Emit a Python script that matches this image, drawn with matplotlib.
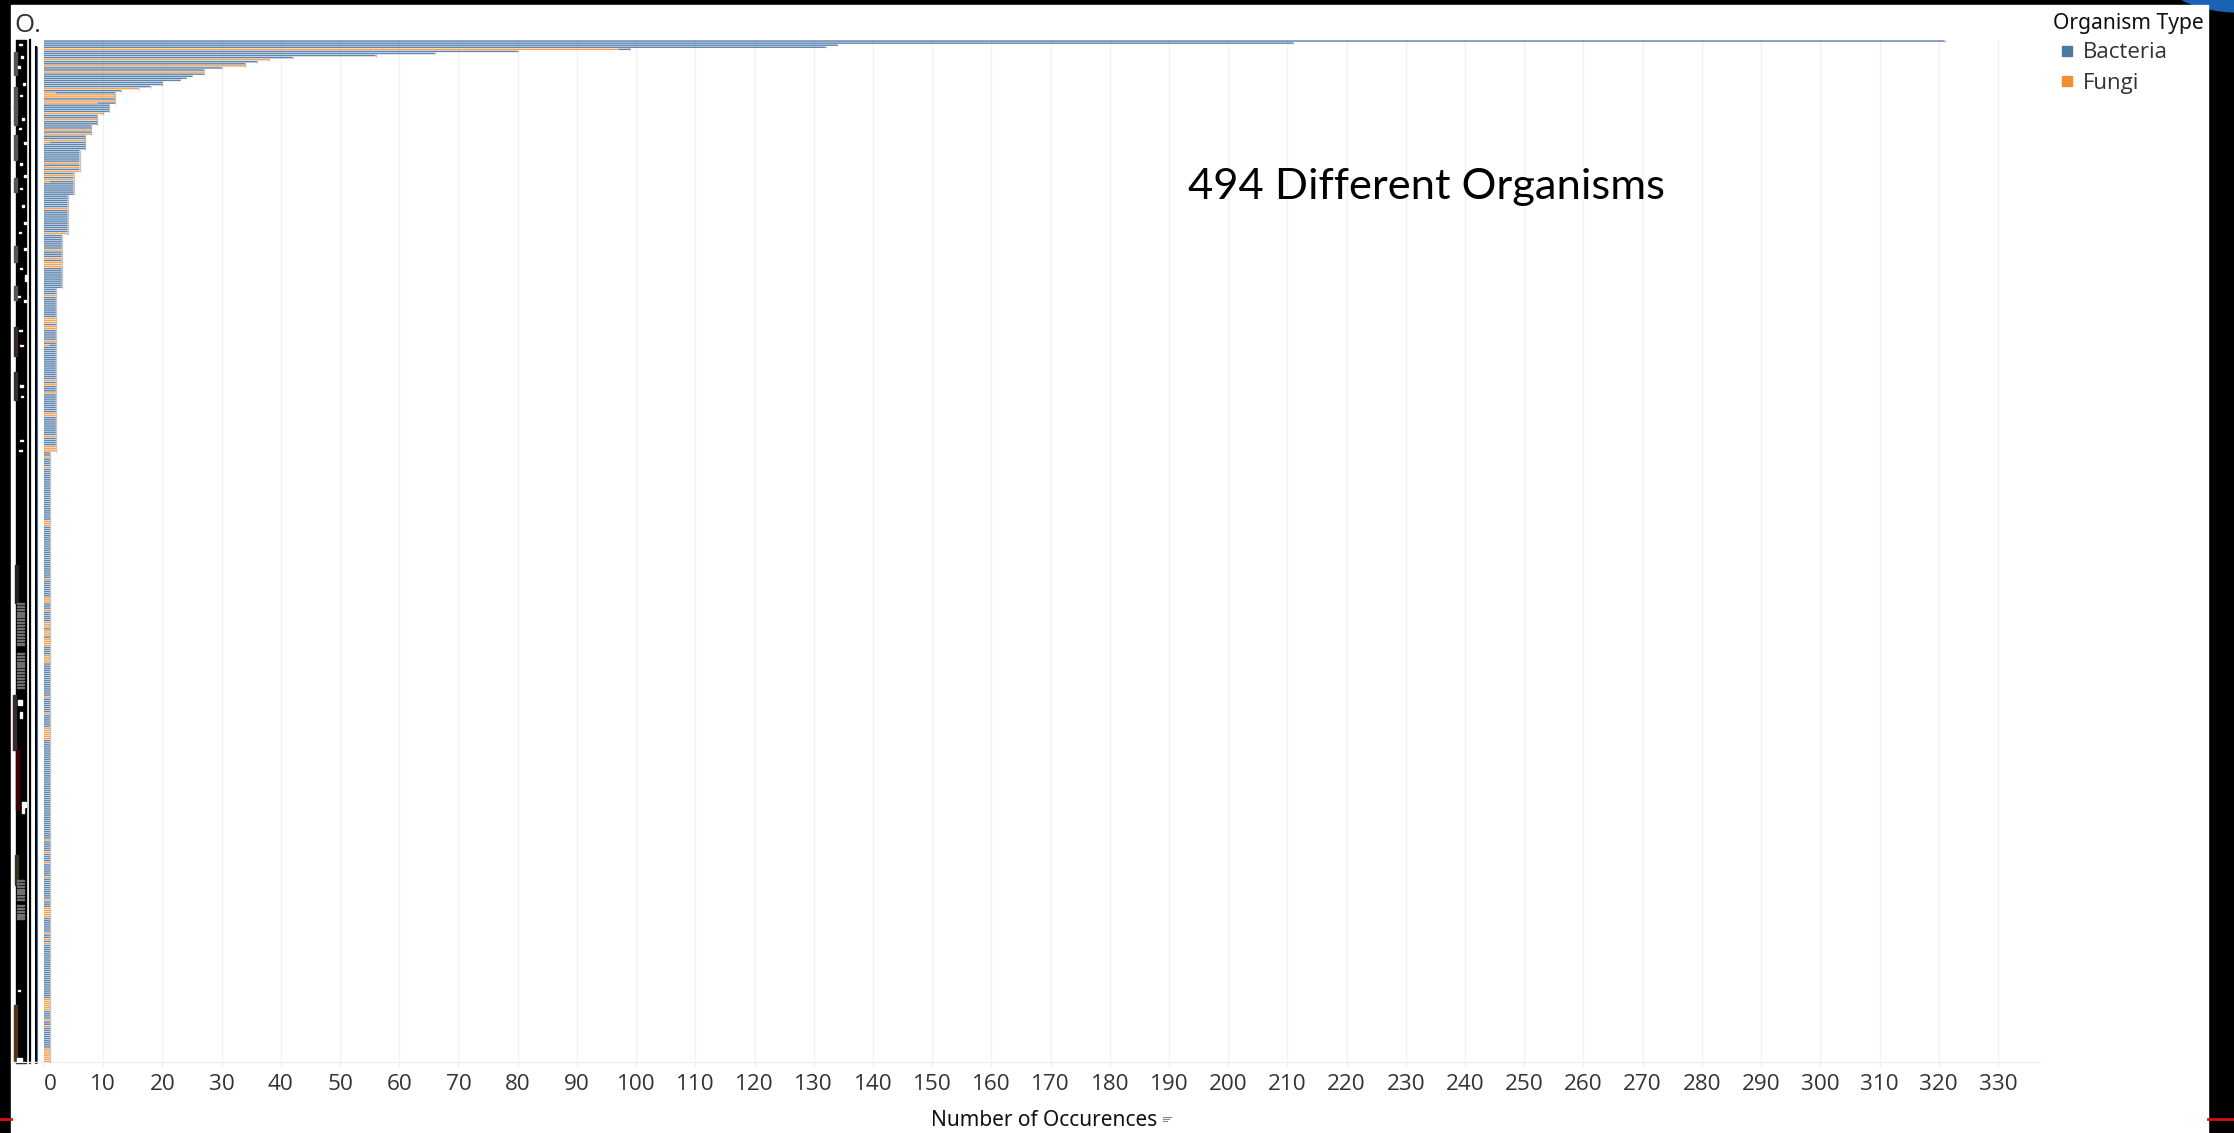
import matplotlib
matplotlib.use("Agg")
import matplotlib.pyplot as plt
from matplotlib.patches import Rectangle, Ellipse
from matplotlib.transforms import ScaledTranslation
import numpy as np

# top organisms, one value per row
top_rows = [321, 211, 134, 132, 99, 80, 66, 56, 42, 38, 36, 34, 34, 30, 27, 27, 27,
            25, 24, 23, 20, 20, 18, 16, 13]
# the long tail: tied occurrence values and how many organisms have each
tied_values = [12, 11, 10, 9, 8, 7, 6, 5, 4, 3, 2, 1]
tied_counts = [6, 4, 1, 5, 5, 7, 11, 11, 19, 26, 79, 295]

# rows that are all fungi
fungi_rows = [9, 12, 15, 23, 26, 27, 29, 35, 38, 43, 45, 48, 59, 61, 63, 65, 67, 81, 93,
              101, 105, 107, 108, 109, 123, 134, 135, 136, 138, 139, 145, 164, 166, 170,
              180, 181, 191, 196, 197, 198, 201, 206, 232, 233, 234, 260, 269, 270, 271,
              275, 281, 282, 283, 285, 286, 287, 289, 290, 291, 292, 297, 298, 299, 300,
              317, 325, 332, 333, 334, 335, 336, 337, 386, 392, 397, 404, 415, 419, 420,
              421, 422, 423, 431, 434, 436, 463, 464, 465, 466, 467, 468, 473, 476, 487,
              488, 489, 490, 491, 492, 493]
# rows with both types: row and fungi part
mixed_rows = [4, 25, 30, 49, 68, 147]
mixed_fungi = [97, 2, 9, 1, 1, 1]

x_ticks = list(range(0, 340, 10))

BLUE = "#4e79a7"
ORANGE = "#f28e2b"
W, H = 2234, 1133

occurrences = np.concatenate([top_rows, np.repeat(tied_values, tied_counts)])
fungi = np.zeros(len(occurrences))
fungi[fungi_rows] = occurrences[fungi_rows]
fungi[mixed_rows] = mixed_fungi
bacteria = occurrences - fungi
rows = np.arange(len(occurrences))

plt.rcParams["font.family"] = ["Open Sans", "DejaVu Sans"]
fig = plt.figure(figsize=(W / 100, H / 100), dpi=100, facecolor="black")

# frame, pixel coordinates
bg = fig.add_axes([0, 0, 1, 1])
bg.set_xlim(0, W)
bg.set_ylim(H, 0)
bg.axis("off")
bg.add_patch(Ellipse((2240, -22), 150, 68, color="#1a62b4", zorder=1))
bg.add_patch(Rectangle((11, 5), 2197, H, color="white", zorder=2))
bg.plot([0, 11], [1119, 1119], color="#d81010", lw=2, zorder=3)
bg.plot([2208, W], [1119, 1119], color="#d81010", lw=2, zorder=3)

# squashed row labels, unreadable in the source
bg.add_patch(Rectangle((15.5, 40), 10, 1023, color="black", zorder=3))
for y0, y1, x0, c in [(52, 75, 13.5, "#555555"), (87, 110, 13.5, "#555555"), (107, 125, 13.5, "#555555"),
                      (135, 160, 13.5, "#555555"), (178, 192, 13.5, "#555555"), (246, 262, 13.5, "#555555"),
                      (286, 300, 13.5, "#555555"), (327, 356, 13.5, "#3a2a30"), (372, 400, 13.5, "#333333"),
                      (565, 603, 14.5, "#222222"), (695, 750, 13, "#3a2a30"), (750, 810, 15.5, "#400000"),
                      (855, 885, 14.5, "#333320"), (1005, 1062, 13.5, "#553311")]:
    bg.add_patch(Rectangle((x0, y0), 3, y1 - y0, color=c, zorder=3))
for y0, y1 in [(603, 645), (653, 690), (880, 900), (905, 918)]:
    for y in np.arange(y0, y1, 3.1):
        bg.add_patch(Rectangle((17, y), 6.5, 1.2, color="#707070", zorder=4))
for x0, y0, w, h in [(19, 44, 2.5, 1), (21, 56, 2, 1.5), (18, 66, 1.5, 1.5), (23, 83, 2, 2), (20, 95, 2, 1), (22, 118, 1.5, 1.5),
                     (19, 128, 2, 1), (24, 142, 1.5, 2), (20, 163, 1.5, 1.5), (24, 175, 1.5, 2), (20, 188, 2, 1),
                     (22, 205, 2, 1.5), (24, 222, 1.5, 2), (19, 232, 2, 1), (24, 248, 1.5, 2), (20, 268, 2, 1),
                     (25, 275, 1.5, 6), (18, 296, 2, 1), (24, 300, 2, 1.5), (19, 330, 3, 1), (20, 345, 3, 1),
                     (20, 385, 2.5, 1.5), (21, 396, 2, 1), (20, 440, 2.5, 1), (19, 450, 3, 1), (18, 700, 4, 5),
                     (20, 712, 2, 6), (22, 802, 4, 5), (22, 808, 2, 5), (18, 990, 2, 1), (17, 1058, 5, 3)]:
    bg.add_patch(Rectangle((x0, y0), w, h, color="white", zorder=5))
bg.plot([30.2, 30.2], [40, 1063], color="black", lw=1.6, zorder=3)
bg.plot([35.2, 35.2], [47, 1063], color="#c98a4a", lw=0.8, zorder=3)
bg.plot([36.2, 36.2], [47, 1063], color="black", lw=1.4, zorder=3)
bg.plot([37.4, 37.4], [47, 1063], color="#3d6ea5", lw=0.8, zorder=3)

# baseline and sort icon
bg.plot([11, 2040], [1062, 1062], color="#f0f0f0", lw=1, zorder=3)
for i, x1 in enumerate([1171, 1169, 1167]):
    bg.plot([1163, x1], [1117 + i * 2.2, 1117 + i * 2.2], color="#888888", lw=0.8, zorder=3)

bg.text(14, 25, "O.", fontsize=18.5, color="#333333", va="center", ha="left", zorder=6)
bg.text(2053, 24, "Organism Type", fontsize=15.2, weight="semibold", family=["Noto Sans"], color="#111111",
        va="center", ha="left", zorder=6)
bg.add_patch(Rectangle((2062, 46), 10, 9.5, color=BLUE, zorder=6))
bg.add_patch(Rectangle((2062, 76), 10, 9.5, color=ORANGE, zorder=6))
bg.text(2083, 53, "Bacteria", fontsize=16, color="#333333", va="center", ha="left", zorder=6)
bg.text(2083, 83, "Fungi", fontsize=16, color="#333333", va="center", ha="left", zorder=6)
bg.text(1044, 1120, "Number of Occurences", fontsize=15, weight="semibold", family=["Noto Sans"],
        color="#111111", va="center", ha="center", zorder=6)

# bars
x0_px, x1_px, y0_px, y1_px = 44, 2040, 40, 1062.5
ax = fig.add_axes([x0_px / W, 1 - y1_px / H, (x1_px - x0_px) / W, (y1_px - y0_px) / H])
ax.patch.set_alpha(0)
ax.set_xlim(0, (x1_px - x0_px) / 5.921)
ax.set_ylim(len(rows) - 0.5, -0.5)
ax.grid(axis="x", color="#f2f2f2", lw=1)
ax.set_axisbelow(True)
b1 = ax.barh(rows, fungi, height=0.72, color=ORANGE, alpha=0.8, lw=0)
b2 = ax.barh(rows, bacteria, left=fungi, height=0.72, color=BLUE, alpha=0.9, lw=0)
for b in list(b1) + list(b2):
    b.set_snap(False)
# soft grey edge at the bar ends
ax.vlines(occurrences, rows - 0.5, rows + 0.5, color="#8c8c8c", lw=0.9, alpha=0.55)

for s in ax.spines.values():
    s.set_visible(False)
ax.set_yticks([])
ax.set_xticks(x_ticks)
ax.set_xticklabels([str(t) for t in x_ticks], fontsize=16.2, color="#333333")
first = ax.get_xticklabels()[0]
first.set_ha("left")
first.set_transform(first.get_transform() + ScaledTranslation(2.5 / 100, 0, fig.dpi_scale_trans))
ax.tick_params(axis="x", length=3, width=1, color="#f0f0f0", pad=5)

# title sits over the gridlines
fig.text(1427 / W, 1 - 187 / H, "494 Different Organisms", fontsize=31.3, family="Lato", color="black",
         va="center", ha="center", zorder=6)

fig.savefig("out.png", dpi=100, facecolor="black")
